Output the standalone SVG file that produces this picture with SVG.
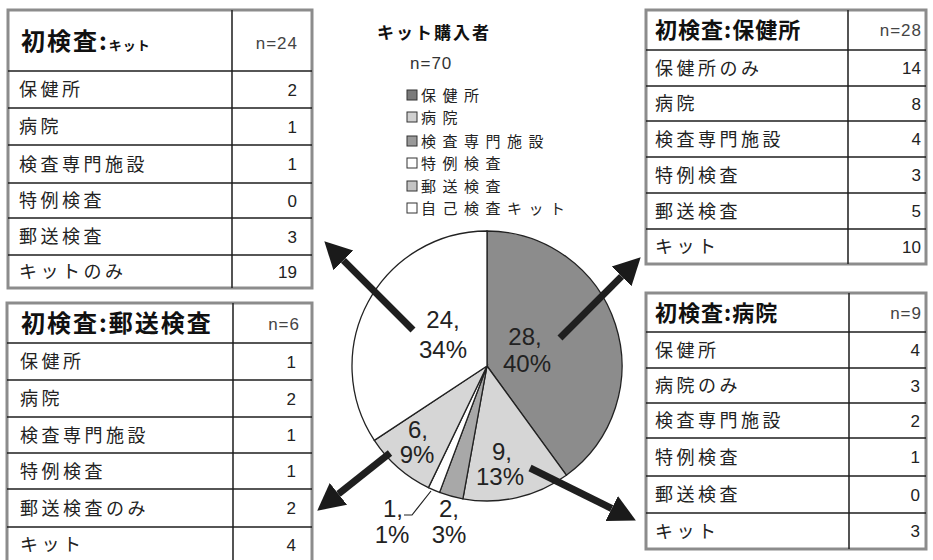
<svg xmlns="http://www.w3.org/2000/svg" width="933" height="560" viewBox="0 0 933 560">
<style>
  .frame{fill:#fff;stroke:#8c8c8c;stroke-width:3}
  .sep{stroke:#1e1e1e;stroke-width:1.6}
  .col{stroke:#2a2a2a;stroke-width:1.6}
  .hd{font-family:"Noto Sans CJK JP",sans-serif;font-weight:700;font-size:24px;letter-spacing:2px;fill:#111}
  .hds{font-family:"Noto Sans CJK JP",sans-serif;font-weight:700;font-size:22px;letter-spacing:1px;fill:#111}
  .lb{font-family:"Noto Sans CJK JP",sans-serif;font-size:18px;letter-spacing:3.5px;fill:#222}
  .lg{font-family:"Noto Sans CJK JP",sans-serif;font-size:15px;letter-spacing:6.5px;fill:#222}
  .n{font-family:"Liberation Sans",Arial,sans-serif;font-size:17px;letter-spacing:1px;fill:#444;text-anchor:end}
  .v{font-family:"Liberation Sans",Arial,sans-serif;font-size:17px;fill:#222;text-anchor:end}
  .pl{font-family:"Liberation Sans",Arial,sans-serif;font-size:24px;fill:#222;text-anchor:middle}
  .slice{stroke:#222;stroke-width:1.3}
  .sq{stroke:#333;stroke-width:1}
  .arrow{stroke:#1f1f1f;stroke-width:7;fill:none;marker-end:url(#ah)}
</style>
<defs>
  <marker id="ah" markerUnits="userSpaceOnUse" markerWidth="30" markerHeight="32" viewBox="0 -16 30 32" refX="0" refY="0" orient="auto">
    <path d="M0,-14 L27,0 L0,14 Z" fill="#1a1a1a"/>
  </marker>
</defs>
<rect width="933" height="560" fill="#fff"/>

<g id="tbl-kit">
  <rect class="frame" x="8" y="10" width="304" height="278"/>
  <line class="col" x1="232" y1="10" x2="232" y2="288"/>
  <line class="sep" x1="8" y1="71" x2="312" y2="71"/>
  <line class="sep" x1="8" y1="108" x2="312" y2="108"/>
  <line class="sep" x1="8" y1="145" x2="312" y2="145"/>
  <line class="sep" x1="8" y1="183" x2="312" y2="183"/>
  <line class="sep" x1="8" y1="218" x2="312" y2="218"/>
  <line class="sep" x1="8" y1="255" x2="312" y2="255"/>
  <text class="hd" x="21" y="50">初検査:<tspan font-size="13px" letter-spacing="1px">キット</tspan></text>
  <text class="n" x="298" y="49">n=24</text>
  <text class="lb" x="19" y="96">保健所</text><text class="v" x="297" y="95.5">2</text>
  <text class="lb" x="19" y="133">病院</text><text class="v" x="297" y="132.5">1</text>
  <text class="lb" x="19" y="170.5">検査専門施設</text><text class="v" x="297" y="170">1</text>
  <text class="lb" x="19" y="207">特例検査</text><text class="v" x="297" y="206.5">0</text>
  <text class="lb" x="19" y="243">郵送検査</text><text class="v" x="297" y="242.5">3</text>
  <text class="lb" x="19" y="278" letter-spacing="1px">キットのみ</text><text class="v" x="297" y="277.5">19</text>
</g>

<g id="tbl-mail">
  <rect class="frame" x="7" y="303" width="305" height="262"/>
  <line class="col" x1="233" y1="303" x2="233" y2="565"/>
  <line class="sep" x1="7" y1="343" x2="312" y2="343"/>
  <line class="sep" x1="7" y1="380" x2="312" y2="380"/>
  <line class="sep" x1="7" y1="417" x2="312" y2="417"/>
  <line class="sep" x1="7" y1="453" x2="312" y2="453"/>
  <line class="sep" x1="7" y1="489" x2="312" y2="489"/>
  <line class="sep" x1="7" y1="527" x2="312" y2="527"/>
  <text class="hd" x="21" y="332" letter-spacing="1.7px">初検査:郵送検査</text>
  <text class="n" x="300" y="330">n=6</text>
  <text class="lb" x="20" y="368">保健所</text><text class="v" x="296" y="367.5">1</text>
  <text class="lb" x="20" y="405">病院</text><text class="v" x="296" y="404.5">2</text>
  <text class="lb" x="20" y="441.5">検査専門施設</text><text class="v" x="296" y="441">1</text>
  <text class="lb" x="20" y="477.5">特例検査</text><text class="v" x="296" y="477">1</text>
  <text class="lb" x="20" y="514.5">郵送検査のみ</text><text class="v" x="296" y="514">2</text>
  <text class="lb" x="20" y="551">キット</text><text class="v" x="296" y="550.5">4</text>
</g>

<g id="tbl-hc">
  <rect class="frame" x="646" y="10" width="280" height="254"/>
  <line class="col" x1="848" y1="10" x2="848" y2="264"/>
  <line class="sep" x1="646" y1="50" x2="926" y2="50"/>
  <line class="sep" x1="646" y1="86" x2="926" y2="86"/>
  <line class="sep" x1="646" y1="121" x2="926" y2="121"/>
  <line class="sep" x1="646" y1="157" x2="926" y2="157"/>
  <line class="sep" x1="646" y1="193" x2="926" y2="193"/>
  <line class="sep" x1="646" y1="229" x2="926" y2="229"/>
  <text class="hds" x="655" y="38" letter-spacing="0px">初検査:保健所</text>
  <text class="n" x="922" y="36">n=28</text>
  <text class="lb" x="655" y="74.5">保健所のみ</text><text class="v" x="921" y="74">14</text>
  <text class="lb" x="655" y="110">病院</text><text class="v" x="921" y="109.5">8</text>
  <text class="lb" x="655" y="145.5">検査専門施設</text><text class="v" x="921" y="145">4</text>
  <text class="lb" x="655" y="181.5">特例検査</text><text class="v" x="921" y="181">3</text>
  <text class="lb" x="655" y="217.5">郵送検査</text><text class="v" x="921" y="217">5</text>
  <text class="lb" x="655" y="253">キット</text><text class="v" x="921" y="252.5">10</text>
</g>

<g id="tbl-hosp">
  <rect class="frame" x="646" y="293" width="280" height="256"/>
  <line class="col" x1="849" y1="293" x2="849" y2="549"/>
  <line class="sep" x1="646" y1="332" x2="926" y2="332"/>
  <line class="sep" x1="646" y1="368" x2="926" y2="368"/>
  <line class="sep" x1="646" y1="403" x2="926" y2="403"/>
  <line class="sep" x1="646" y1="438" x2="926" y2="438"/>
  <line class="sep" x1="646" y1="476" x2="926" y2="476"/>
  <line class="sep" x1="646" y1="513" x2="926" y2="513"/>
  <text class="hds" x="655" y="321" letter-spacing="3px">初検査:病院</text>
  <text class="n" x="922" y="319">n=9</text>
  <text class="lb" x="655" y="356.5">保健所</text><text class="v" x="920" y="356">4</text>
  <text class="lb" x="655" y="392">病院のみ</text><text class="v" x="920" y="391.5">3</text>
  <text class="lb" x="655" y="427">検査専門施設</text><text class="v" x="920" y="426.5">2</text>
  <text class="lb" x="655" y="463.5">特例検査</text><text class="v" x="920" y="463">1</text>
  <text class="lb" x="655" y="501">郵送検査</text><text class="v" x="920" y="500.5">0</text>
  <text class="lb" x="655" y="537.5">キット</text><text class="v" x="920" y="537">3</text>
</g>

<g id="title">
  <text x="377" y="39" font-family="'Noto Sans CJK JP',sans-serif" font-weight="700" font-size="17px" letter-spacing="2px" fill="#111">キット購入者</text>
  <text x="410" y="69" font-family="'Liberation Sans',Arial,sans-serif" font-size="17px" letter-spacing="1px" fill="#333">n=70</text>
</g>

<g id="legend">
  <rect class="sq" x="407" y="90" width="10" height="10" fill="#7a7a7a"/>
  <text class="lg" x="421" y="100.5">保健所</text>
  <rect class="sq" x="407" y="112" width="10" height="10" fill="#d0d0d0"/>
  <text class="lg" x="421" y="122.5">病院</text>
  <rect class="sq" x="407" y="136" width="10" height="10" fill="#9a9a9a"/>
  <text class="lg" x="421" y="146.5">検査専門施設</text>
  <rect class="sq" x="407" y="158" width="10" height="10" fill="#fff"/>
  <text class="lg" x="421" y="168.5">特例検査</text>
  <rect class="sq" x="407" y="181" width="10" height="10" fill="#c4c4c4"/>
  <text class="lg" x="421" y="191.5">郵送検査</text>
  <rect class="sq" x="407" y="203" width="10" height="10" fill="#fff"/>
  <text class="lg" x="421" y="213.5" letter-spacing="5px">自己検査キット</text>
</g>

<g id="pie">
  <path class="slice" d="M487,366 L487,231 A135,135 0 0 1 566.35,475.2 Z" fill="#8c8c8c"/>
  <path class="slice" d="M487,366 L566.35,475.2 A135,135 0 0 1 462.89,498.83 Z" fill="#d6d6d6"/>
  <path class="slice" d="M487,366 L462.89,498.83 A135,135 0 0 1 439.56,492.39 Z" fill="#a8a8a8"/>
  <path class="slice" d="M487,366 L439.56,492.39 A135,135 0 0 1 428.42,487.63 Z" fill="#ffffff"/>
  <path class="slice" d="M487,366 L428.42,487.63 A135,135 0 0 1 374.33,440.37 Z" fill="#d6d6d6"/>
  <path class="slice" d="M487,366 L374.33,440.37 A135,135 0 0 1 487,231 Z" fill="#ffffff"/>
  <text class="pl" x="443" y="328">24,</text>
  <text class="pl" x="443" y="358">34%</text>
  <text class="pl" x="525" y="345">28,</text>
  <text class="pl" x="527" y="372">40%</text>
  <text class="pl" x="418" y="438">6,</text>
  <text class="pl" x="417" y="463">9%</text>
  <text class="pl" x="502" y="460">9,</text>
  <text class="pl" x="500" y="485">13%</text>
  <text class="pl" x="393" y="517">1,</text>
  <text class="pl" x="392" y="543">1%</text>
  <text class="pl" x="449" y="517">2,</text>
  <text class="pl" x="449" y="543">3%</text>
</g>

<g id="connectors">
  <polyline points="404,515 412,515 431,491" fill="none" stroke="#222" stroke-width="1.2"/>
  <path class="arrow" d="M413,330 L343.4,260.4"/>
  <path class="arrow" d="M560,338 L621.6,276.4"/>
  <path class="arrow" d="M390,453 L338.4,493.9"/>
  <path class="arrow" d="M530,468 L611.7,508.5"/>
</g>
</svg>
